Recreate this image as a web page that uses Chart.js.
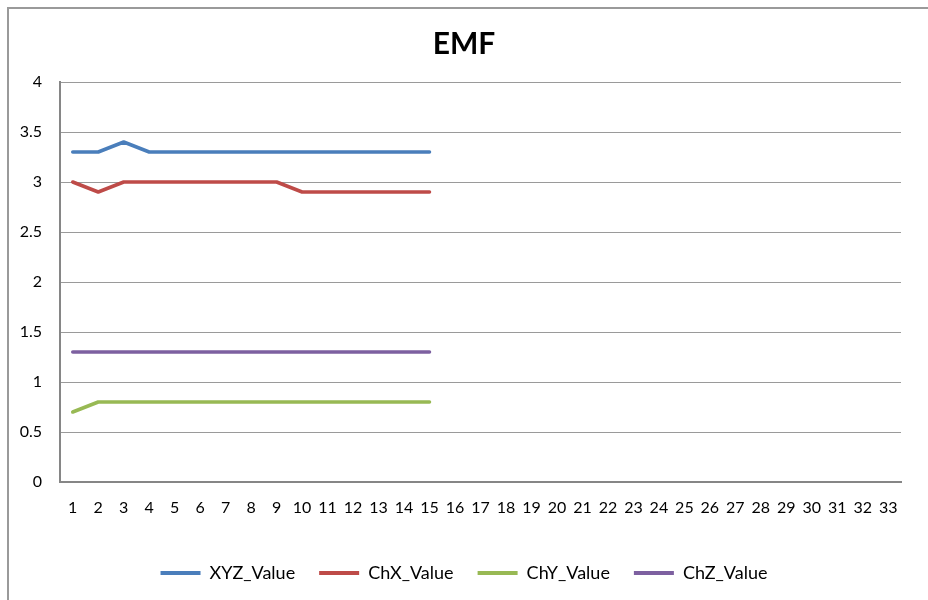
<!DOCTYPE html>
<html lang="en">
<head>
    <meta charset="UTF-8">
    <title>EMF</title>
    <script src="https://cdn.jsdelivr.net/npm/chart.js"></script>
    <style>
        html, body {
            margin: 0;
            padding: 0;
            background: #fff;
            overflow: hidden;
        }
        .frame {
            position: absolute;
            left: 7px;
            top: 7px;
            width: 1000px;
            height: 700px;
            border: 2px solid #9a9a9a;
        }
        .chart-container {
            position: absolute;
            left: 0;
            top: 0;
            width: 928px;
            height: 600px;
        }
    </style>
</head>
<body>
    <div class="frame"></div>
    <div class="chart-container">
        <canvas id="emfChart"></canvas>
    </div>
    <script>
        // x categories 1..33
        const categories = ['1', '2', '3', '4', '5', '6', '7', '8', '9', '10', '11', '12', '13', '14', '15', '16', '17',
            '18', '19', '20', '21', '22', '23', '24', '25', '26', '27', '28', '29', '30', '31', '32', '33'];

        // series values
        const xyzValue = [3.3, 3.3, 3.4, 3.3, 3.3, 3.3, 3.3, 3.3, 3.3, 3.3, 3.3, 3.3, 3.3, 3.3, 3.3];
        const chxValue = [3.0, 2.9, 3.0, 3.0, 3.0, 3.0, 3.0, 3.0, 3.0, 2.9, 2.9, 2.9, 2.9, 2.9, 2.9];
        const chyValue = [0.7, 0.8, 0.8, 0.8, 0.8, 0.8, 0.8, 0.8, 0.8, 0.8, 0.8, 0.8, 0.8, 0.8, 0.8];
        const chzValue = [1.3, 1.3, 1.3, 1.3, 1.3, 1.3, 1.3, 1.3, 1.3, 1.3, 1.3, 1.3, 1.3, 1.3, 1.3];

        const yMin = 0;
        const yMax = 4;
        const yStep = 0.5;

        function series(label, data, color) {
            return {
                label: label,
                data: data,
                borderColor: color,
                backgroundColor: color,
                borderWidth: 3.5,
                borderCapStyle: 'round',
                borderJoinStyle: 'round',
                pointRadius: 0,
                pointHoverRadius: 0,
                tension: 0,
                fill: false
            };
        }

        const ctx = document.getElementById('emfChart').getContext('2d');
        const emfChart = new Chart(ctx, {
            type: 'line',
            data: {
                labels: categories,
                datasets: [
                    series('XYZ_Value', xyzValue, '#4a7ebb'),
                    series('ChX_Value', chxValue, '#be4b48'),
                    series('ChY_Value', chyValue, '#98b954'),
                    series('ChZ_Value', chzValue, '#7d60a0')
                ]
            },
            options: {
                responsive: true,
                maintainAspectRatio: false,
                animation: false,
                layout: {
                    padding: { left: 0, right: 0, top: 0, bottom: 8 }
                },
                plugins: {
                    title: {
                        display: true,
                        text: 'EMF',
                        color: '#000',
                        font: { family: 'Lato', size: 30, weight: 'bold' },
                        padding: { top: 26, bottom: 20 }
                    },
                    legend: {
                        position: 'bottom',
                        labels: {
                            color: '#000',
                            font: { family: 'Lato', size: 18 },
                            boxWidth: 40,
                            boxHeight: 4,
                            padding: 24,
                            generateLabels: function (chart) {
                                const items = Chart.defaults.plugins.legend.labels.generateLabels(chart);
                                items.forEach(function (it) { it.lineWidth = 0; });
                                return items;
                            }
                        }
                    },
                    tooltip: { enabled: false }
                },
                scales: {
                    x: {
                        type: 'category',
                        offset: true,
                        grid: { display: false, drawTicks: false },
                        border: { display: true, color: '#868686', width: 2 },
                        ticks: {
                            color: '#000',
                            font: { family: 'Lato', size: 16 },
                            padding: 16,
                            maxRotation: 0,
                            autoSkip: false
                        },
                        afterFit: function (scale) { scale.height = 58; }
                    },
                    y: {
                        min: yMin,
                        max: yMax,
                        grid: { color: '#9a9a9a', lineWidth: 1, drawTicks: false },
                        border: { display: true, color: '#868686', width: 2 },
                        ticks: {
                            stepSize: yStep,
                            color: '#000',
                            font: { family: 'Lato', size: 16 },
                            padding: 18,
                            callback: function (value) { return String(value); }
                        },
                        afterFit: function (scale) { scale.width = 60; }
                    },
                    // empty right-hand spacer so the plot ends where the reference does
                    spacer: {
                        type: 'linear',
                        position: 'right',
                        grid: { display: false, drawTicks: false },
                        border: { display: false },
                        ticks: { display: false },
                        afterFit: function (scale) { scale.width = 27; }
                    }
                }
            }
        });
    </script>
</body>
</html>
